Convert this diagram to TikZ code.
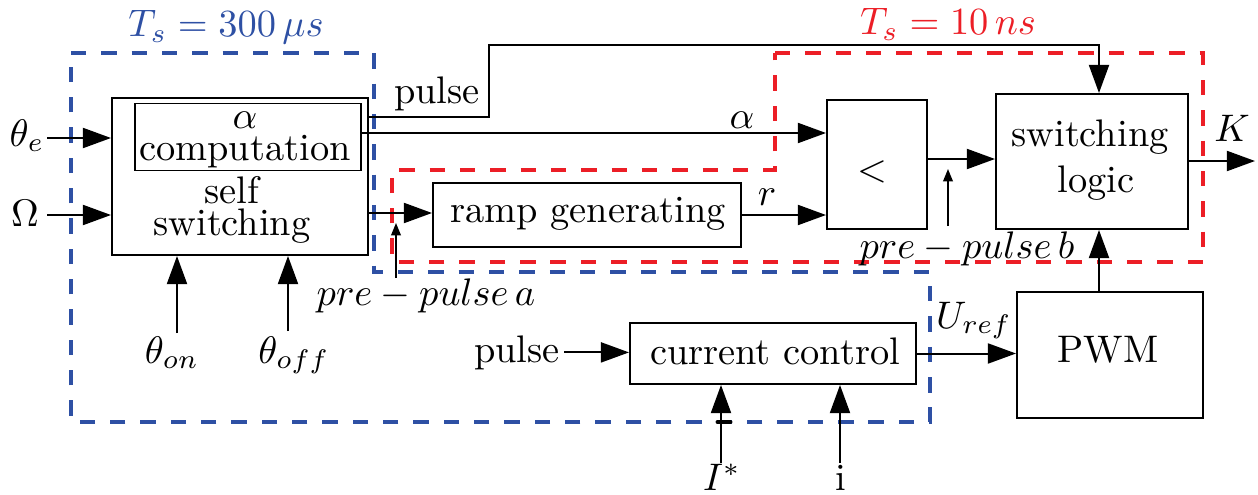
\documentclass[tikz,border=0pt]{standalone}
\usetikzlibrary{arrows.meta}
\definecolor{bl}{RGB}{46,80,164}
\definecolor{rd}{RGB}{236,30,38}
\newcommand{\pxu}{0.2604pt}
\tikzset{
 txt/.style={inner sep=0pt, anchor=base},
 two/.style={inner sep=0pt, align=center},
 blk/.style={draw, line width=0.52pt, inner sep=0pt},
 con/.style={line width=0.52pt, -{Triangle[length=7.3pt,width=5.2pt]}},
 thinarr/.style={line width=0.42pt, -{Triangle[length=3.2pt,width=2.5pt]}},
 bdash/.style={draw=bl, line width=1.15pt, dash pattern=on 4pt off 3.9pt},
 rdash/.style={draw=rd, line width=1.15pt, dash pattern=on 4pt off 3.9pt},
}
\begin{document}
\begin{tikzpicture}[x=\pxu,y=-\pxu]
\useasboundingbox (0,0) rectangle (1258,495);
% blocks
\node[blk, minimum width=256*\pxu, minimum height=157*\pxu] (ss) at (240,176.5) {};
\node[blk, minimum width=226*\pxu, minimum height=67*\pxu] (ac) at (248,137) {};
\node[blk, minimum width=308*\pxu, minimum height=64*\pxu] (ramp) at (587,215) {};
\node[blk, minimum width=100*\pxu, minimum height=129*\pxu] (lt) at (877,164.5) {};
\node[blk, minimum width=192*\pxu, minimum height=135*\pxu] (sl) at (1092,161.5) {};
\node[blk, minimum width=186*\pxu, minimum height=126*\pxu] (pwm) at (1110,355) {};
\node[blk, minimum width=286*\pxu, minimum height=61*\pxu] (cc) at (773,353.5) {};
% block texts
\node[two] (t1) at (245,139.5) {$\alpha$\\[-3.67pt]computation};
\node[two] (t3) at (232,209.5) {self\\[-3.67pt]switching};
\node[txt] (t5) at (588,223) {ramp generating};
\node[txt] (t6) at (872,181) {$<$};
\node[txt] (t7) at (1090,147) {switching};
\node[txt] (t8) at (1096,192) {logic};
\node[txt] (t9) at (1108,362) {PWM};
\node[txt] (t10) at (775,364) {current control};
% dashed regions
\draw[bdash] (71,53) -- (374,53) -- (374,272) -- (930,272) -- (930,422) -- (71,422) -- cycle;
\draw[rdash] (775,53) -- (1203,53) -- (1203,262) -- (392,262) -- (392,170) -- (775,170) -- cycle;
\node[txt, text=bl] (tsb) at (226,37) {$T_s=300\,\mu s$};
\node[txt, text=rd] (tsr) at (948,35) {$T_s=10\,ns$};
% labels
\node[txt] (lte) at (27,146) {$\theta_e$};
\node[txt] (lom) at (25,226) {$\Omega$};
\node[txt] (lon) at (172,363) {$\theta_{on}$};
\node[txt] (lof) at (294,363) {$\theta_{off}$};
\node[txt] (lpu) at (437,103) {pulse};
\node[txt] (lal) at (742,128) {$\alpha$};
\node[txt] (lr) at (767,205) {$r$};
\node[txt] (lk) at (1232,141) {$K$};
\node[txt] (lpa) at (426,305) {$pre-pulse\,a$};
\node[txt] (lpb) at (967,258) {$pre-pulse\,b$};
\node[txt] (lur) at (974,328) {$U_{ref}$};
\node[txt] (pls) at (517,362) {pulse};
\node[txt] (lis) at (722,490) {$I^{*}$};
\node[txt] (li) at (841,490) {i};
% connectors
\coordinate (te) at (47,138);
\draw[con] (te) -- (te -| ss.west);
\coordinate (om) at (47,215);
\draw[con] (om) -- (om -| ss.west);
\coordinate (pa) at (489,117);
\coordinate (pb) at (1099,45);
\draw[con] (pa -| ss.east) -- (pa) -- (pa |- pb) -- (pb) -- (pb |- sl.north);
\coordinate (al) at (600,133);
\draw[con] (al -| ac.east) -- (al -| lt.west);
\coordinate (ri) at (400,213);
\draw[con] (ri -| ss.east) -- (ri -| ramp.west);
\draw[con] (ramp.east) -- (ramp.east -| lt.west);
\coordinate (ls) at (960,159);
\draw[con] (ls -| lt.east) -- (ls -| sl.west);
\coordinate (ke) at (1255,161);
\draw[con] (ke -| sl.east) -- (ke);
\coordinate (pw) at (1099,260);
\draw[con] (pw |- pwm.north) -- (pw |- sl.south);
\draw[con] (cc.east) -- (cc.east -| pwm.west);
\draw[con] ([xshift=1pt]pls.east) -- (pls.east -| cc.west);
\coordinate (on) at (177,333);
\draw[con] (on) -- (on |- ss.south);
\coordinate (of) at (288,331);
\draw[con] (of) -- (of |- ss.south);
\coordinate (pra) at (396,278);
\coordinate (prat) at (396,223);
\draw[thinarr] (pra) -- (prat);
\coordinate (prb) at (948,226);
\coordinate (prbt) at (948,169);
\draw[thinarr] (prb) -- (prbt);
\coordinate (is) at (721,463);
\draw[con] (is) -- (is |- cc.south);
\draw[line width=1.3pt, line cap=round] (718,422) -- (730,422);
\coordinate (ii) at (840,463);
\draw[con] (ii) -- (ii |- cc.south);
\end{tikzpicture}
\end{document}
